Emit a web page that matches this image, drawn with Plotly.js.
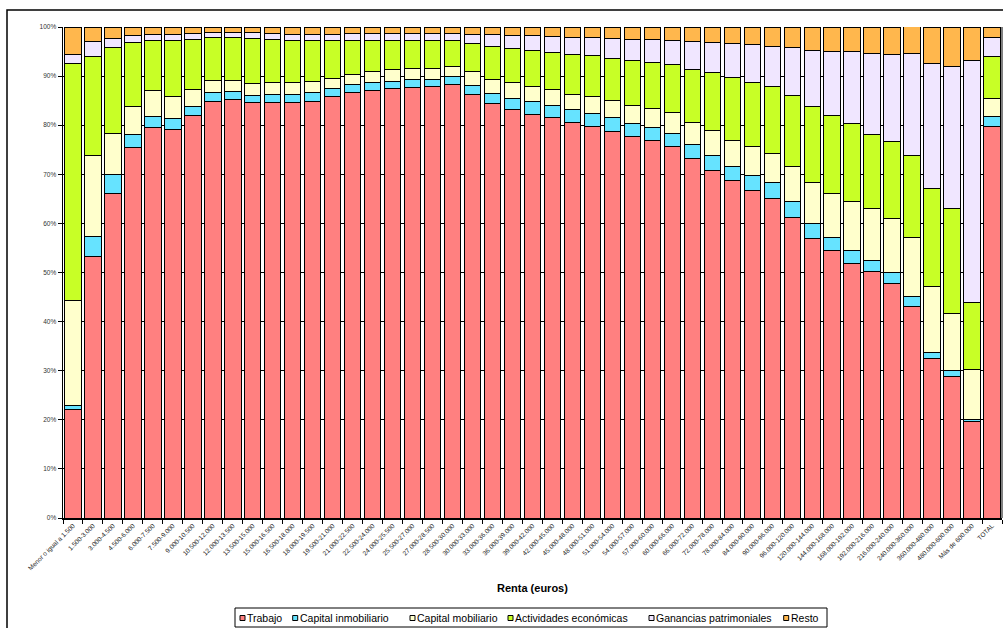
<!DOCTYPE html>
<html>
<head>
<meta charset="utf-8">
<script src="https://cdn.plot.ly/plotly-3.0.1.min.js"></script>
<style>html,body{margin:0;padding:0;background:#fff;}#chart{width:1003px;height:628px;}</style>
</head>
<body>
<div id="chart"></div>
<script>
const categories = ["Menor o igual a 1.500","1.500-3.000","3.000-4.500","4.500-6.000","6.000-7.500","7.500-9.000","9.000-10.500","10.500-12.000","12.000-13.500","13.500-15.000","15.000-16.500","16.500-18.000","18.000-19.500","19.500-21.000","21.000-22.500","22.500-24.000","24.000-25.500","25.500-27.000","27.000-28.500","28.500-30.000","30.000-33.000","33.000-36.000","36.000-39.000","39.000-42.000","42.000-45.000","45.000-48.000","48.000-51.000","51.000-54.000","54.000-57.000","57.000-60.000","60.000-66.000","66.000-72.000","72.000-78.000","78.000-84.000","84.000-90.000","90.000-96.000","96.000-120.000","120.000-144.000","144.000-168.000","168.000-192.000","192.000-216.000","216.000-240.000","240.000-360.000","360.000-480.000","480.000-600.000","Más de 600.000","TOTAL"];

const trabajo = [22.0,53.25,66.1,75.5,79.6,79.1,82.0,84.9,85.2,84.55,84.7,84.7,84.8,85.8,86.65,87.0,87.45,87.7,87.8,88.35,86.3,84.4,83.3,82.25,81.55,80.5,79.8,78.8,77.65,76.8,75.6,73.25,70.85,68.7,66.65,65.1,61.25,57.0,54.5,51.9,50.15,47.85,43.04,32.4,28.9,19.7,79.8];
const capitalInmobiliario = [1.0,4.0,3.95,2.7,2.1,2.3,1.9,1.7,1.7,1.45,1.6,1.6,1.8,1.6,1.7,1.6,1.5,1.6,1.6,1.5,1.85,2.1,2.1,2.5,2.45,2.7,2.6,2.7,2.7,2.7,2.7,2.9,3.05,2.85,3.2,3.2,3.15,3.0,2.55,2.5,2.25,2.15,2.03,1.27,1.24,0.4,1.9];
const capitalMobiliario = [21.4,16.5,8.35,5.7,5.4,4.4,3.4,2.6,2.3,2.5,2.3,2.45,2.2,2.2,2.05,2.25,2.35,2.25,2.15,2.15,2.7,2.9,3.2,3.15,3.25,3.1,3.5,3.6,3.75,3.9,4.2,4.45,4.95,5.4,5.75,5.95,7.15,8.3,9.05,10.0,10.6,11.1,12.0,13.58,11.6,10.2,3.65];
const actividades = [48.1,20.3,17.4,13.0,10.2,11.4,10.25,8.7,8.7,9.2,8.95,8.6,8.4,7.6,6.95,6.45,6.05,5.65,5.6,5.2,5.85,6.7,7.0,7.35,7.6,8.1,8.3,8.5,9.05,9.35,9.9,10.8,11.8,12.7,13.0,13.7,14.5,15.45,15.8,15.9,15.2,15.5,16.85,19.85,21.2,13.55,8.7];
const ganancias = [1.9,2.9,1.8,1.3,1.1,1.2,1.1,1.0,1.0,1.1,1.1,1.15,1.3,1.3,1.3,1.35,1.3,1.45,1.5,1.45,1.8,2.3,2.65,3.0,3.25,3.55,3.75,4.1,4.35,4.75,4.9,5.6,6.1,6.9,7.8,8.0,9.7,11.5,13.15,14.8,16.5,17.85,20.6,25.45,29.05,49.25,3.9];
const resto = [5.55,3.05,2.4,1.8,1.6,1.6,1.35,1.1,1.1,1.2,1.35,1.5,1.5,1.5,1.35,1.35,1.35,1.35,1.35,1.35,1.5,1.6,1.75,1.75,1.9,2.05,2.05,2.3,2.5,2.5,2.7,3.0,3.25,3.45,3.6,4.05,4.25,4.75,4.95,4.9,5.3,5.55,6.1,7.45,8.0,6.9,2.05];

const seriesNames = ["Trabajo","Capital inmobiliario","Capital mobiliario","Actividades económicas","Ganancias patrimoniales","Resto"];
const seriesValues = [trabajo, capitalInmobiliario, capitalMobiliario, actividades, ganancias, resto];
const seriesColors = ["#FF8080","#66E3FF","#FFFFCC","#C8FF26","#F0E6FF","#FFB74D"];
const yTickVals = [0,10,20,30,40,50,60,70,80,90,100];
const yTickText = ["0%","10%","20%","30%","40%","50%","60%","70%","80%","90%","100%"];
const xAxisTitle = "Renta (euros)";

// plot-area geometry (pixels) for converting layout positions to paper coords
const PL = 63, PR = 1002, PT = 27, PB = 518;
const px2x = p => (p - PL) / (PR - PL);
const px2y = p => (PB - p) / (PB - PT);

const traces = seriesNames.map((n, i) => ({
  type: 'bar',
  name: n,
  x: categories,
  y: seriesValues[i],
  marker: {color: seriesColors[i], line: {color: '#000000', width: 1}},
  hoverinfo: 'skip',
  showlegend: false
}));

// custom legend (Excel style, compact)
const legSquareX = [240, 292.7, 410, 508, 649, 783.7];
const legY = 618;
const shapes = [
  {type: 'rect', xref: 'paper', yref: 'paper',
   x0: px2x(7), x1: px2x(1010), y0: px2y(640), y1: px2y(10),
   line: {color: '#000', width: 1.5}, fillcolor: 'rgba(0,0,0,0)', layer: 'below'},
  {type: 'line', xref: 'paper', yref: 'paper', x0: 1, x1: 1, y0: 0, y1: 1,
   line: {color: '#808080', width: 2}},
  {type: 'rect', xref: 'paper', yref: 'paper',
   x0: px2x(235), x1: px2x(827), y0: px2y(627), y1: px2y(608),
   line: {color: '#000', width: 1}, fillcolor: '#fff'}
];
const annotations = [{
  text: '<b>' + xAxisTitle + '</b>', xref: 'paper', yref: 'paper',
  x: px2x(532), y: px2y(588), xanchor: 'center', yanchor: 'middle',
  showarrow: false, font: {size: 11, color: '#000'}
}];
seriesNames.forEach((n, i) => {
  const sx = legSquareX[i];
  shapes.push({type: 'rect', xref: 'paper', yref: 'paper',
    x0: px2x(sx), x1: px2x(sx + 5), y0: px2y(legY + 2.5), y1: px2y(legY - 2.5),
    line: {color: '#000', width: 1}, fillcolor: seriesColors[i]});
  annotations.push({text: n, xref: 'paper', yref: 'paper',
    x: px2x(sx + 5), y: px2y(legY), xanchor: 'left', yanchor: 'middle',
    showarrow: false, font: {size: 10.5, color: '#000'}});
});

const layout = {
  width: 1003, height: 628,
  margin: {l: PL, r: 1003 - PR, t: PT, b: 628 - PB},
  paper_bgcolor: '#ffffff', plot_bgcolor: '#ffffff',
  barmode: 'stack',
  bargap: 0.18,
  showlegend: false,
  font: {family: 'Liberation Sans, Arial, sans-serif', color: '#000'},
  xaxis: {
    type: 'category',
    tickangle: -45,
    tickfont: {size: 6.5, color: '#222'},
    showline: true, linecolor: '#000', linewidth: 1.5,
    ticks: 'outside', ticklen: 4, tickcolor: '#000', tickson: 'boundaries',
    showgrid: false, fixedrange: true
  },
  yaxis: {
    range: [0, 100],
    tickvals: yTickVals, ticktext: yTickText,
    tickfont: {size: 6.5, color: '#333'},
    showline: true, linecolor: '#000', linewidth: 1.5,
    ticks: 'outside', ticklen: 4, tickcolor: '#000',
    showgrid: true, gridcolor: '#000', gridwidth: 1,
    zeroline: false, fixedrange: true
  },
  annotations: annotations,
  shapes: shapes
};

Plotly.newPlot('chart', traces, layout, {displayModeBar: false, staticPlot: true});
</script>
</body>
</html>
